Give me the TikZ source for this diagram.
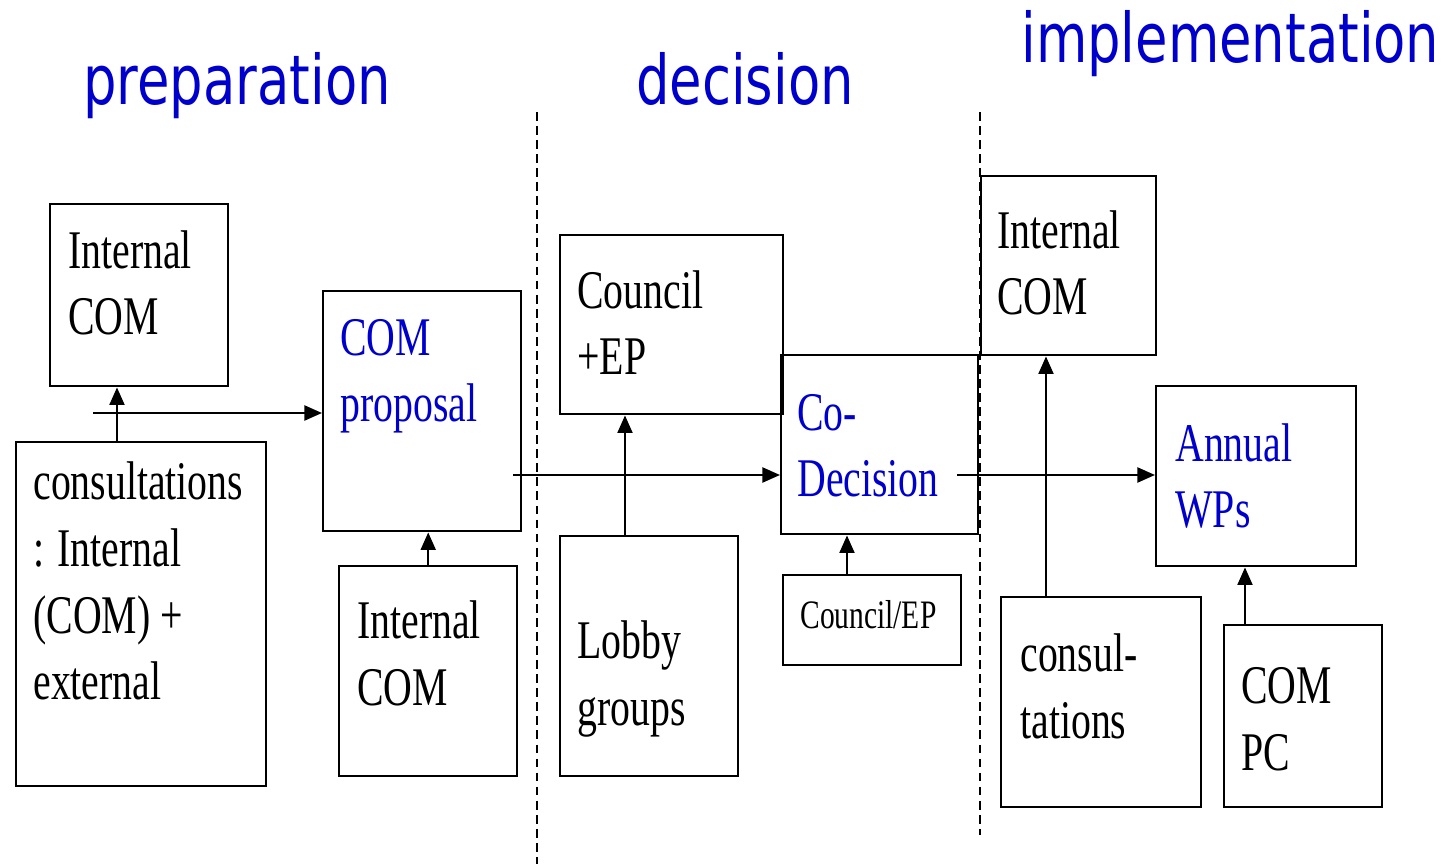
\documentclass[tikz,border=0pt]{standalone}
\usepackage{fontspec}
\setmainfont{Liberation Serif}[FakeStretch=0.73]
\newfontfamily\headfont{DejaVu Sans}[FakeStretch=0.77]
\usetikzlibrary{arrows.meta}
\definecolor{stageblue}{RGB}{0,0,204}
\tikzset{
  box/.style={draw, line width=1.4pt, anchor=north west, inner sep=0pt},
  lbl/.style={anchor=base west, align=left, inner sep=0pt, font=\fontsize{31}{38}\selectfont},
  stage/.style={anchor=base west, inner sep=0pt, text=stageblue, font=\headfont\fontsize{39}{44}\selectfont},
  arr/.style={line width=1.3pt, -{Triangle[length=10pt,width=8.5pt]}},
  divider/.style={line width=0.9pt, dash pattern=on 5pt off 3pt}
}
\begin{document}
\begin{tikzpicture}[x=0.02cm, y=-0.02cm]
    \useasboundingbox (0,0) rectangle (1444,864);

    % phases
    \node[stage] (prep) at (83,105) {preparation};
    \node[stage] (dec) at (636,105) {decision};
    \node[stage] (impl) at (1021,63) {implementation};
    \draw[divider] (537,112) -- (537,864);
    \draw[divider] (980,112) -- (980,835);

    % preparation (labels sit on the baseline of their last line)
    \node[box, minimum width=3.56cm, minimum height=3.64cm] (intA) at (49,203) {};
    \node[box, minimum width=5.0cm, minimum height=6.88cm] (consult) at (15,441) {};
    \node[box, minimum width=3.96cm, minimum height=4.8cm] (proposal) at (322,290) {};
    \node[box, minimum width=3.56cm, minimum height=4.2cm] (intB) at (338,565) {};
    \node[lbl] (intA-l) at (68,335) {Internal\\COM};
    \node[lbl] (consult-l) at (33,700) {consultations\\: Internal\\(COM) +\\external};
    \node[lbl, text=stageblue] (proposal-l) at (340,422) {COM\\proposal};
    \node[lbl] (intB-l) at (357,705) {Internal\\COM};

    % decision
    \node[box, minimum width=4.46cm, minimum height=3.58cm] (council) at (559,234) {};
    \node[box, minimum width=3.56cm, minimum height=4.8cm] (lobby) at (559,535) {};
    \node[box, minimum width=3.94cm, minimum height=3.58cm] (codec) at (780,354) {};
    \node[box, minimum width=3.56cm, minimum height=1.8cm] (councilEP) at (782,574) {};
    \node[lbl] (council-l) at (577,375) {Council\\+EP};
    \node[lbl] (lobby-l) at (577,725) {Lobby\\groups};
    \node[lbl, text=stageblue] (codec-l) at (797,497) {Co-\\Decision};
    \node[lbl, font=\fontsize{23}{28}\selectfont] (councilEP-l) at (800,628) {Council/EP};

    % implementation
    \node[box, minimum width=3.5cm, minimum height=3.58cm] (intC) at (980,175) {};
    \node[box, minimum width=4.0cm, minimum height=4.2cm] (consul) at (1000,596) {};
    \node[box, minimum width=4.0cm, minimum height=3.6cm] (annual) at (1155,385) {};
    \node[box, minimum width=3.16cm, minimum height=3.64cm] (compc) at (1223,624) {};
    \node[lbl] (intC-l) at (997,315) {Internal\\COM};
    \node[lbl] (consul-l) at (1020,738) {consul-\\tations};
    \node[lbl, text=stageblue] (annual-l) at (1175,528) {Annual\\WPs};
    \node[lbl] (compc-l) at (1241,770) {COM\\PC};

    % flows
    \coordinate (cin) at (93,413);
    \coordinate (pout) at (513,475);
    \coordinate (cout) at (957,475);
    \draw[arr] ([xshift=2.04cm]consult.north west) -- ([xshift=2.04cm]consult.north west |- intA.south);
    \draw[arr] (cin) -- (cin -| proposal.west);
    \draw[arr] (intB.north) -- (intB.north |- proposal.south);
    \draw[arr] (pout) -- (pout -| codec.west);
    \draw[arr] ([xshift=1.32cm]lobby.north west) -- ([xshift=1.32cm]lobby.north west |- council.south);
    \draw[arr] ([xshift=1.3cm]councilEP.north west) -- ([xshift=1.3cm]councilEP.north west |- codec.south);
    \draw[arr] (cout) -- (cout -| annual.west);
    \draw[arr] ([xshift=0.92cm]consul.north west) -- ([xshift=0.92cm]consul.north west |- intC.south);
    \draw[arr] ([xshift=0.44cm]compc.north west) -- ([xshift=0.44cm]compc.north west |- annual.south);
\end{tikzpicture}
\end{document}
